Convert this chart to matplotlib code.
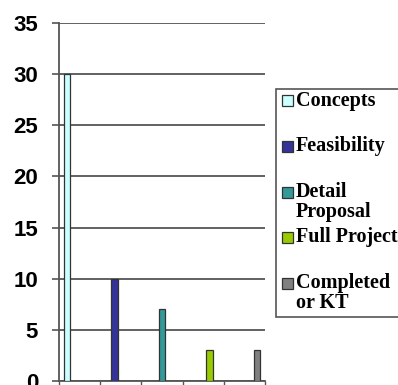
import matplotlib
matplotlib.use("Agg")
import matplotlib.pyplot as plt
from matplotlib.patches import Rectangle

series = ["Concepts", "Feasibility", "Detail\nProposal", "Full Project", "Completed\nor KT"]
values = [30, 10, 7, 3, 3]
colors = ["#CCFFFF", "#333399", "#339999", "#99CC00", "#808080"]
yticks = [0, 5, 10, 15, 20, 25, 30, 35]

W, H = 398, 385
fig = plt.figure(figsize=(W / 100, H / 100), dpi=100)
ax = fig.add_axes([59 / W, 1 - 381 / H, (265 - 59) / W, (381 - 23) / H])

n = len(series)
bw = 0.155
for i, (name, v, c) in enumerate(zip(series, values, colors)):
    x = i + (i - (n - 1) / 2) * bw
    ax.bar(x, v, width=bw, color=c, edgecolor="#333333", linewidth=0.9, zorder=3)

ax.set_xlim(-0.5, n - 0.5)
ax.set_ylim(0, 35)
ax.set_yticks(yticks)
ax.set_yticklabels([str(t) for t in yticks], fontfamily="Liberation Sans",
                   fontweight="bold", fontsize=16)
ax.set_xticks([i - 0.5 for i in range(n + 1)])
ax.set_xticklabels([])
ax.tick_params(axis="y", length=5, width=1.2, color="#555555", pad=10)
ax.tick_params(axis="x", length=4, width=1.0, color="#555555")
ax.grid(axis="y", color="#555555", linewidth=1.3, zorder=0)
ax.set_axisbelow(True)
for s in ["top", "right"]:
    ax.spines[s].set_visible(False)
for s in ["left", "bottom"]:
    ax.spines[s].set_color("#555555")
    ax.spines[s].set_linewidth(1.3)

# Legend box (manual, clipped at figure edge like the reference)
def fx(px):
    return px / W

def fy(py):
    return 1 - py / H

fig.patches.append(Rectangle((fx(276), fy(317)), fx(250), (317 - 89) / H,
                             transform=fig.transFigure, facecolor="white",
                             edgecolor="#555555", linewidth=1.2))
label_y = [101, 146, 202, 237, 293]
for name, c, py in zip(series, colors, label_y):
    nlines = name.count("\n") + 1
    first_y = py - (nlines - 1) * 9.5
    fig.patches.append(Rectangle((fx(282), fy(first_y + 5.5)), fx(11), 11 / H,
                                 transform=fig.transFigure, facecolor=c,
                                 edgecolor="#333333", linewidth=0.9))
    fig.text(fx(296), fy(py), name, fontfamily="Liberation Serif", fontweight="bold",
             fontsize=14.5, va="center", ha="left", linespacing=0.95)

fig.savefig("out.png", dpi=100)
